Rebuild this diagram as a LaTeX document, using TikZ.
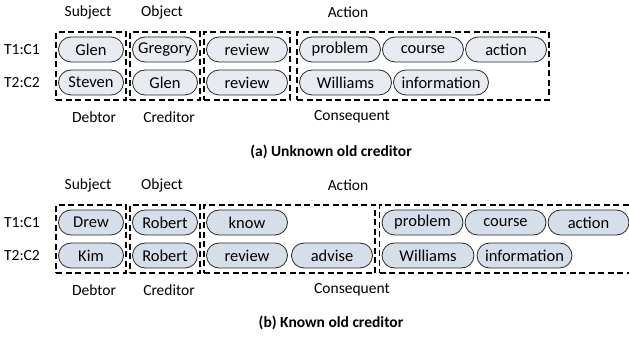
\documentclass[tikz,border=0pt]{standalone}
\usepackage{fontspec}
\setmainfont{Carlito}
\usetikzlibrary{positioning, fit}
\definecolor{pillA}{HTML}{E8ECF2}
\definecolor{pillB}{HTML}{D6DEEA}

\begin{document}
\begin{tikzpicture}[
    x=1pt, y=-1pt, % 以點為單位, y 向下
    font=\fontsize{15.5}{18}\selectfont, % 設定字體大小
    % 定義通用樣式
    pill/.style={
        draw=black!85,
        line width=0.8pt,
        rounded corners=12.5pt,
        minimum height=25pt,
        minimum width=81pt,
        inner sep=2pt,
        outer sep=0pt,
        fill=pillA,
        font=\fontsize{16.5}{18}\selectfont
    },
    namepill/.style={pill, minimum width=65pt},
    group/.style={
        draw,
        line width=1.6pt,
        dash pattern=on 6pt off 3.5pt, % 虛線框
        inner xsep=2.5pt,
        inner ysep=5pt
    },
    caption/.style={font=\fontsize{15.5}{18}\selectfont\bfseries}
]
    \useasboundingbox (0,0) rectangle (629,347);
    \clip (0,0) rectangle (629,347);

    % --- 1. Unknown old creditor (Top) ---
    % 第一列
    \node[namepill] (a-s1) at (91,49.5) {Glen};
    \node[namepill, right=9pt of a-s1] (a-o1) {Gregory};
    \node[pill, right=9pt of a-o1] (a-v1) {review};
    \node[pill, right=12pt of a-v1] (a-c1) {problem};
    \node[pill, right=2pt of a-c1] (a-c2) {course};
    \node[pill, right=2pt of a-c2] (a-c3) {action};
    % 第二列
    \node[namepill, below=8pt of a-s1] (a-s2) {Steven};
    \node[namepill, below=8pt of a-o1] (a-o2) {Glen};
    \node[pill, below=8pt of a-v1] (a-v2) {review};
    \node[pill, minimum width=92pt, below=8pt of a-c1.south west, anchor=north west] (a-c4) {Williams};
    \node[pill, minimum width=0pt, inner xsep=8pt, right=2pt of a-c4] (a-c5) {information};

    % 虛線框
    \node[group, fit=(a-s1)(a-s2)] (a-box1) {};
    \node[group, fit=(a-o1)(a-o2)] (a-box2) {};
    \node[group, fit=(a-v1)(a-v2)] (a-box3) {};
    \node[group, fit=(a-c1)(a-c3)(a-c5)] (a-box4) {};

    % 標籤
    \node (a-t1) at (22,49.5) {T1:C1};
    \node (a-t2) at (22,82.5) {T2:C2};
    \node (a-subj) at (88,12) {Subject};
    \node (a-obj) at (162,12) {Object};
    \node (a-act) at (348,12) {Action};
    \node (a-debt) at (94,117) {Debtor};
    \node (a-cred) at (169,117) {Creditor};
    \node (a-cons) at (352,117) {Consequent};
    \node[caption] (a-cap) at (331,152) {(a) Unknown old creditor};

    % --- 2. Known old creditor (Bottom) ---
    \begin{scope}[yshift=-173pt, pill/.append style={fill=pillB}]
        % 第一列
        \node[namepill] (b-s1) at (91,49.5) {Drew};
        \node[namepill, right=9pt of b-s1] (b-o1) {Robert};
        \node[pill, right=9pt of b-o1] (b-v1) {know};
        % 第二列
        \node[namepill, below=8pt of b-s1] (b-s2) {Kim};
        \node[namepill, below=8pt of b-o1] (b-o2) {Robert};
        \node[pill, below=8pt of b-v1] (b-v2) {review};
        \node[pill, right=4pt of b-v2] (b-adv) {advise};
        \node[pill, minimum width=92pt, right=9.5pt of b-adv] (b-c4) {Williams};
        \node[pill, minimum width=0pt, inner xsep=8pt, right=3pt of b-c4] (b-c5) {information};
        % 第一列 (右側)
        \node[pill, above=8pt of b-c4.north west, anchor=south west] (b-c1) {problem};
        \node[pill, right=2pt of b-c1] (b-c2) {course};
        \node[pill, right=2pt of b-c2] (b-c3) {action};

        % 虛線框
        \node[group, fit=(b-s1)(b-s2)] (b-box1) {};
        \node[group, fit=(b-o1)(b-o2)] (b-box2) {};
        \node[group, fit=(b-v1)(b-v2)(b-adv)] (b-box3) {};
        \node[group, fit=(b-c1)(b-c3)(b-c5)] (b-box4) {};

        % 標籤
        \node (b-t1) at (22,49.5) {T1:C1};
        \node (b-t2) at (22,82.5) {T2:C2};
        \node (b-subj) at (88,12) {Subject};
        \node (b-obj) at (162,12) {Object};
        \node (b-act) at (348,12) {Action};
        \node (b-debt) at (94,117) {Debtor};
        \node (b-cred) at (169,117) {Creditor};
        \node (b-cons) at (352,117) {Consequent};
        \node[caption] (b-cap) at (331,150) {(b) Known old creditor};
    \end{scope}

\end{tikzpicture}
\end{document}
